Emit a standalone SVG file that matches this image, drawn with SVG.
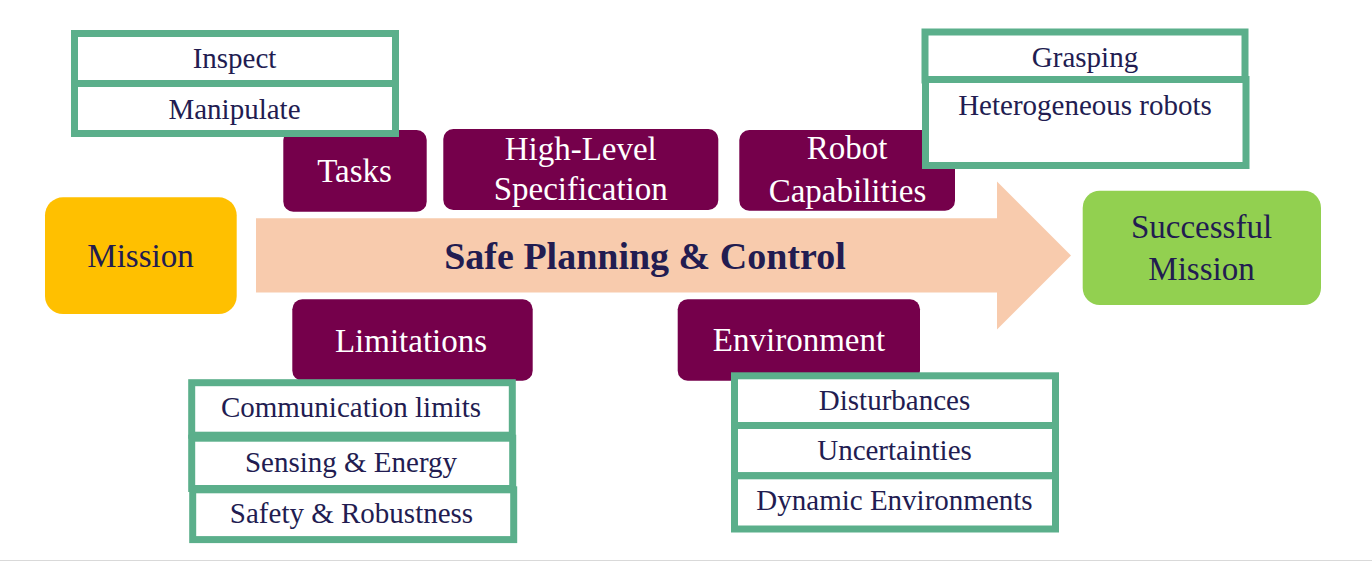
<svg xmlns="http://www.w3.org/2000/svg" width="1372" height="561" viewBox="0 0 1372 561">
<style>
.sub{fill:#fff;stroke:#5baf8b;stroke-width:7}
.cat{fill:#75004b}
.t{font-family:"Liberation Serif","Times New Roman",serif;text-anchor:middle}
.st{font-size:29px;fill:#221c51}
.ct{font-size:33px;fill:#ffffff}
.mt{font-size:33px;fill:#221c51}
.title{font-size:38px;font-weight:bold;fill:#221c51}
</style>
<rect x="0" y="0" width="1372" height="561" fill="#ffffff"/>
<line x1="0" y1="560.5" x2="1372" y2="560.5" stroke="#d9d9d9" stroke-width="1"/>
<g id="connectors">
<polygon points="256,218.3 997,218.3 997,181.5 1071,255.5 997,329.5 997,292.5 256,292.5" fill="#f8cbad"/>
<text class="t title" x="645" y="268.5">Safe Planning &amp; Control</text>
</g>
<g id="mission">
<rect x="45" y="197.3" width="191.7" height="116.7" rx="18" fill="#ffc000"/>
<text class="t mt" x="140.5" y="267.3">Mission</text>
</g>
<g id="successful-mission">
<rect x="1082.7" y="190.7" width="238.3" height="114.3" rx="17" fill="#92d050"/>
<text class="t mt" x="1201.5" y="238.3">Successful</text>
<text class="t mt" x="1201.5" y="280">Mission</text>
</g>
<g id="tasks">
<rect class="cat" x="283.3" y="130" width="143.4" height="81.7" rx="10"/>
<text class="t ct" x="354.5" y="182.3">Tasks</text>
</g>
<g id="high-level-specification">
<rect class="cat" x="443.3" y="129" width="275" height="81" rx="10"/>
<text class="t ct" x="580.7" y="160">High-Level</text>
<text class="t ct" x="580.7" y="200">Specification</text>
</g>
<g id="robot-capabilities">
<rect class="cat" x="739.3" y="130" width="215.7" height="80.7" rx="10"/>
<text class="t ct" x="847" y="159.3">Robot</text>
<text class="t ct" x="847.5" y="201.7">Capabilities</text>
</g>
<g id="limitations">
<rect class="cat" x="292.3" y="299.3" width="240.4" height="81.4" rx="10"/>
<text class="t ct" x="411" y="351.7">Limitations</text>
</g>
<g id="environment">
<rect class="cat" x="677.7" y="299.3" width="242.3" height="81.4" rx="10"/>
<text class="t ct" x="799" y="351">Environment</text>
</g>
<g id="task-items">
<rect class="sub" x="74.5" y="33.5" width="321" height="50"/>
<text class="t st" x="234.5" y="68.3">Inspect</text>
<rect class="sub" x="74.5" y="83.5" width="321" height="50"/>
<text class="t st" x="234.5" y="119.3">Manipulate</text>
</g>
<g id="capability-items">
<rect class="sub" x="925" y="32" width="320" height="48"/>
<text class="t st" x="1085" y="66.7">Grasping</text>
<rect class="sub" x="925.5" y="79.5" width="320.5" height="86"/>
<text class="t st" x="1085" y="115">Heterogeneous robots</text>
</g>
<g id="limitation-items">
<rect class="sub" x="191.7" y="382.7" width="320.6" height="52.5"/>
<text class="t st" x="351" y="416.7">Communication limits</text>
<rect class="sub" x="191.7" y="438.2" width="321" height="50.3"/>
<text class="t st" x="351" y="471.7">Sensing &amp; Energy</text>
<rect class="sub" x="192.7" y="489.8" width="321" height="49.8"/>
<text class="t st" x="351.5" y="523.3">Safety &amp; Robustness</text>
</g>
<g id="environment-items">
<rect class="sub" x="734.5" y="375.8" width="321" height="49.7"/>
<text class="t st" x="894.5" y="410">Disturbances</text>
<rect class="sub" x="734.5" y="425.5" width="321" height="50.2"/>
<text class="t st" x="894.5" y="460">Uncertainties</text>
<rect class="sub" x="734.5" y="475.8" width="321" height="53.2"/>
<text class="t st" x="894.5" y="510">Dynamic Environments</text>
</g>
</svg>
